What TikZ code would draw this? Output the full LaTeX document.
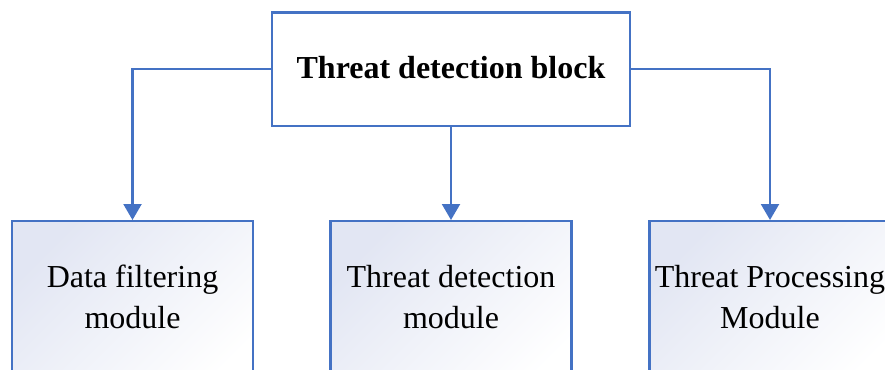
\documentclass[tikz,border=0pt]{standalone}
\usepackage{fontspec}
\setmainfont{Liberation Serif}
\usetikzlibrary{arrows.meta}
\definecolor{lineblue}{HTML}{4472C4}
\definecolor{shadeblue}{HTML}{E2E6F3}
\begin{document}
\begin{tikzpicture}[x=1pt,y=-1pt,
  topbox/.style={draw=lineblue,line width=2.2pt,fill=white,minimum width=358pt,minimum height=113.5pt,inner sep=0pt},
  modbox/.style={draw=lineblue,line width=2.2pt,top color=shadeblue,bottom color=white,shading angle=45,minimum width=241pt,minimum height=180pt,inner sep=0pt,anchor=north},
  lbl/.style={align=center,font=\fontsize{32}{41}\selectfont,inner sep=0pt},
  arr/.style={draw=lineblue,line width=2.2pt,-{Triangle[width=18pt,length=16pt]}}
]
\useasboundingbox (0,0) rectangle (885,369);
\clip (0,0) rectangle (885,369);
\node[topbox] (top) at (451,69.3) {};
\node[lbl,font=\fontsize{32}{41}\selectfont\bfseries] (toptext) at (451,68) {Threat detection block};
\node[modbox] (b1) at (132.5,220) {};
\node[modbox] (b2) at (451,220) {};
\node[modbox] (b3) at (770,220) {};
\node[lbl] (t1) at (132.5,297) {Data filtering\\module};
\node[lbl] (t2) at (451,297) {Threat detection\\module};
\node[lbl] (t3) at (770,297) {Threat Processing\\Module};
\draw[arr] (top.west) -| (b1.north);
\draw[arr] (top.south) -- (b2.north);
\draw[arr] (top.east) -| (b3.north);
\end{tikzpicture}
\end{document}
